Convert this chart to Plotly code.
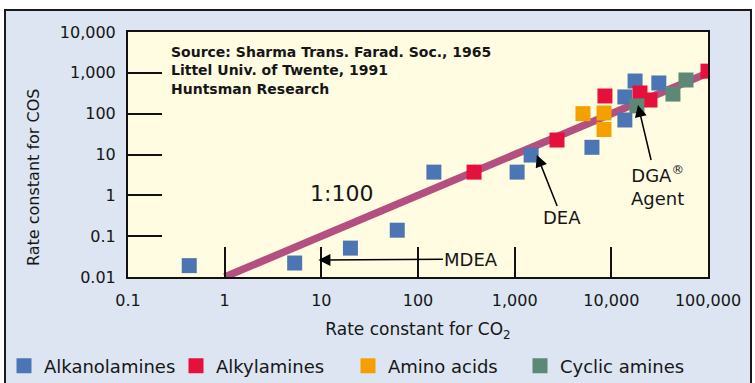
import plotly.graph_objects as go

# Rate constants (CO2 rate, COS rate) for each amine family
alkanol_co2 = [0.43, 5.3, 20, 61, 146, 1060, 1480, 6300, 13800, 13800, 17600, 31000]
alkanol_cos = [0.019, 0.022, 0.051, 0.14, 3.7, 3.7, 9.7, 15, 70, 257, 630, 565]

alkyl_co2 = [380, 2740, 8590, 19800, 25100, 100000]
alkyl_cos = [3.7, 22.6, 271, 321, 216, 1100]

amino_co2 = [5090, 8400, 8400]
amino_cos = [100, 104, 41]

cyclic_co2 = [18400, 43400, 59200]
cyclic_cos = [155, 302, 667]

# 1:100 reference line
ratio_co2 = [1, 100000]
ratio_cos = [0.01, 1000]

x_ticks = [0.1, 1, 10, 100, 1000, 10000, 100000]
x_ticktext = ["0.1", "1", "10", "100", "1,000", "10,000", "100,000"]
y_ticks = [0.01, 0.1, 1, 10, 100, 1000, 10000]
y_ticktext = ["0.01", "0.1", "1", "10", "100", "1,000", "10,000"]

FONT = "DejaVu Sans"
INK = "#161616"
FIG_W, FIG_H = 755, 383

fig = go.Figure()

fig.add_trace(go.Scatter(
    x=ratio_co2, y=ratio_cos, mode="lines",
    line=dict(color="#B4507F", width=7.5),
    showlegend=False, hoverinfo="skip", name="1:100",
))

series = [
    ("Alkanolamines", alkanol_co2, alkanol_cos, "#4C76B3"),
    ("Alkylamines", alkyl_co2, alkyl_cos, "#E5103C"),
    ("Amino acids", amino_co2, amino_cos, "#F4A100"),
    ("Cyclic amines", cyclic_co2, cyclic_cos, "#5C8976"),
]
for name, xs, ys, col in series:
    fig.add_trace(go.Scatter(
        x=xs, y=ys, mode="markers", name=name,
        marker=dict(symbol="square", size=15, color=col, line=dict(width=0)),
    ))

# Plot geometry (pixels) used for paper-coordinate placement
L, R, T, B = 128, 708, 32, 277
W, H = R - L, B - T


def px(x):
    return (x - L) / W


def py(y):
    return (B - y) / H


shapes = [
    # outer panel
    dict(type="rect", xref="paper", yref="paper", layer="below",
         x0=px(5), x1=px(751), y0=py(395), y1=py(10),
         fillcolor="#DCE5F1", line=dict(color="#1a1a1a", width=2)),
    # plotting area
    dict(type="rect", xref="paper", yref="paper", layer="below",
         x0=0, x1=1, y0=0, y1=1,
         fillcolor="#FFFCE2", line=dict(width=0)),
]

src_font = dict(family=FONT, size=14, color=INK, weight="bold")
annotations = [
    dict(xref="paper", yref="paper", x=px(169), y=py(52), xanchor="left", yanchor="middle",
         text="Source: Sharma Trans. Farad. Soc., 1965", showarrow=False, font=src_font),
    dict(xref="paper", yref="paper", x=px(169), y=py(70), xanchor="left", yanchor="middle",
         text="Littel Univ. of Twente, 1991", showarrow=False, font=src_font),
    dict(xref="paper", yref="paper", x=px(169), y=py(89), xanchor="left", yanchor="middle",
         text="Huntsman Research", showarrow=False, font=src_font),
    dict(xref="paper", yref="paper", x=px(341), y=py(193), xanchor="center", yanchor="middle",
         text="1:100", showarrow=False,
         font=dict(family=FONT, size=22, color=INK)),
    dict(x=3.23, y=0.988, xref="x", yref="y", text="DEA",
         showarrow=True, ax=25, ay=63, arrowhead=2, arrowsize=1.6, arrowwidth=1.5,
         arrowcolor="#000", font=dict(family=FONT, size=18, color=INK)),
    dict(x=4.276, y=2.212, xref="x", yref="y", text="DGA<sup>®</sup><br>Agent",
         showarrow=True, ax=19, ay=80, arrowhead=2, arrowsize=1.6, arrowwidth=1.5,
         arrowcolor="#000", font=dict(family=FONT, size=18, color=INK)),
    dict(x=0.97, y=-1.584, xref="x", yref="y", text="MDEA",
         showarrow=True, ax=153, ay=-1, arrowhead=2, arrowsize=1.6, arrowwidth=1.5,
         arrowcolor="#000", font=dict(family=FONT, size=18, color=INK)),
    # vertical axis title
    dict(xref="paper", yref="paper", x=px(33), y=py(178), xanchor="center", yanchor="middle",
         text="Rate constant for COS", textangle=-90, showarrow=False,
         font=dict(family=FONT, size=16, color=INK)),
]

axis_common = dict(
    type="log", showgrid=False, zeroline=False,
    showline=True, linecolor="#111", linewidth=2, mirror=True,
    ticks="inside", tickcolor="#111", tickwidth=2,
    tickfont=dict(family=FONT, size=16, color=INK),
)

fig.update_layout(
    width=FIG_W, height=FIG_H, autosize=False,
    margin=dict(l=L, r=FIG_W - R, t=T, b=FIG_H - B, pad=0, autoexpand=False),
    paper_bgcolor="white", plot_bgcolor="rgba(0,0,0,0)",
    shapes=shapes, annotations=annotations,
    xaxis=dict(axis_common, range=[-1, 5], tickvals=x_ticks, ticktext=x_ticktext,
               ticklen=30, ticklabelstandoff=8,
               title=dict(text="Rate constant for CO<sub>2</sub>", standoff=14,
                          font=dict(family=FONT, size=17, color=INK))),
    yaxis=dict(axis_common, range=[-2, 4], tickvals=y_ticks, ticktext=y_ticktext,
               ticklen=34, ticklabelstandoff=7),
    legend=dict(orientation="h", x=px(4), xanchor="left", y=py(366), yanchor="middle",
                entrywidth=127, entrywidthmode="pixels", bgcolor="rgba(0,0,0,0)",
                font=dict(family=FONT, size=18, color=INK), itemclick=False),
    showlegend=True,
)

fig.write_html("out.html")
